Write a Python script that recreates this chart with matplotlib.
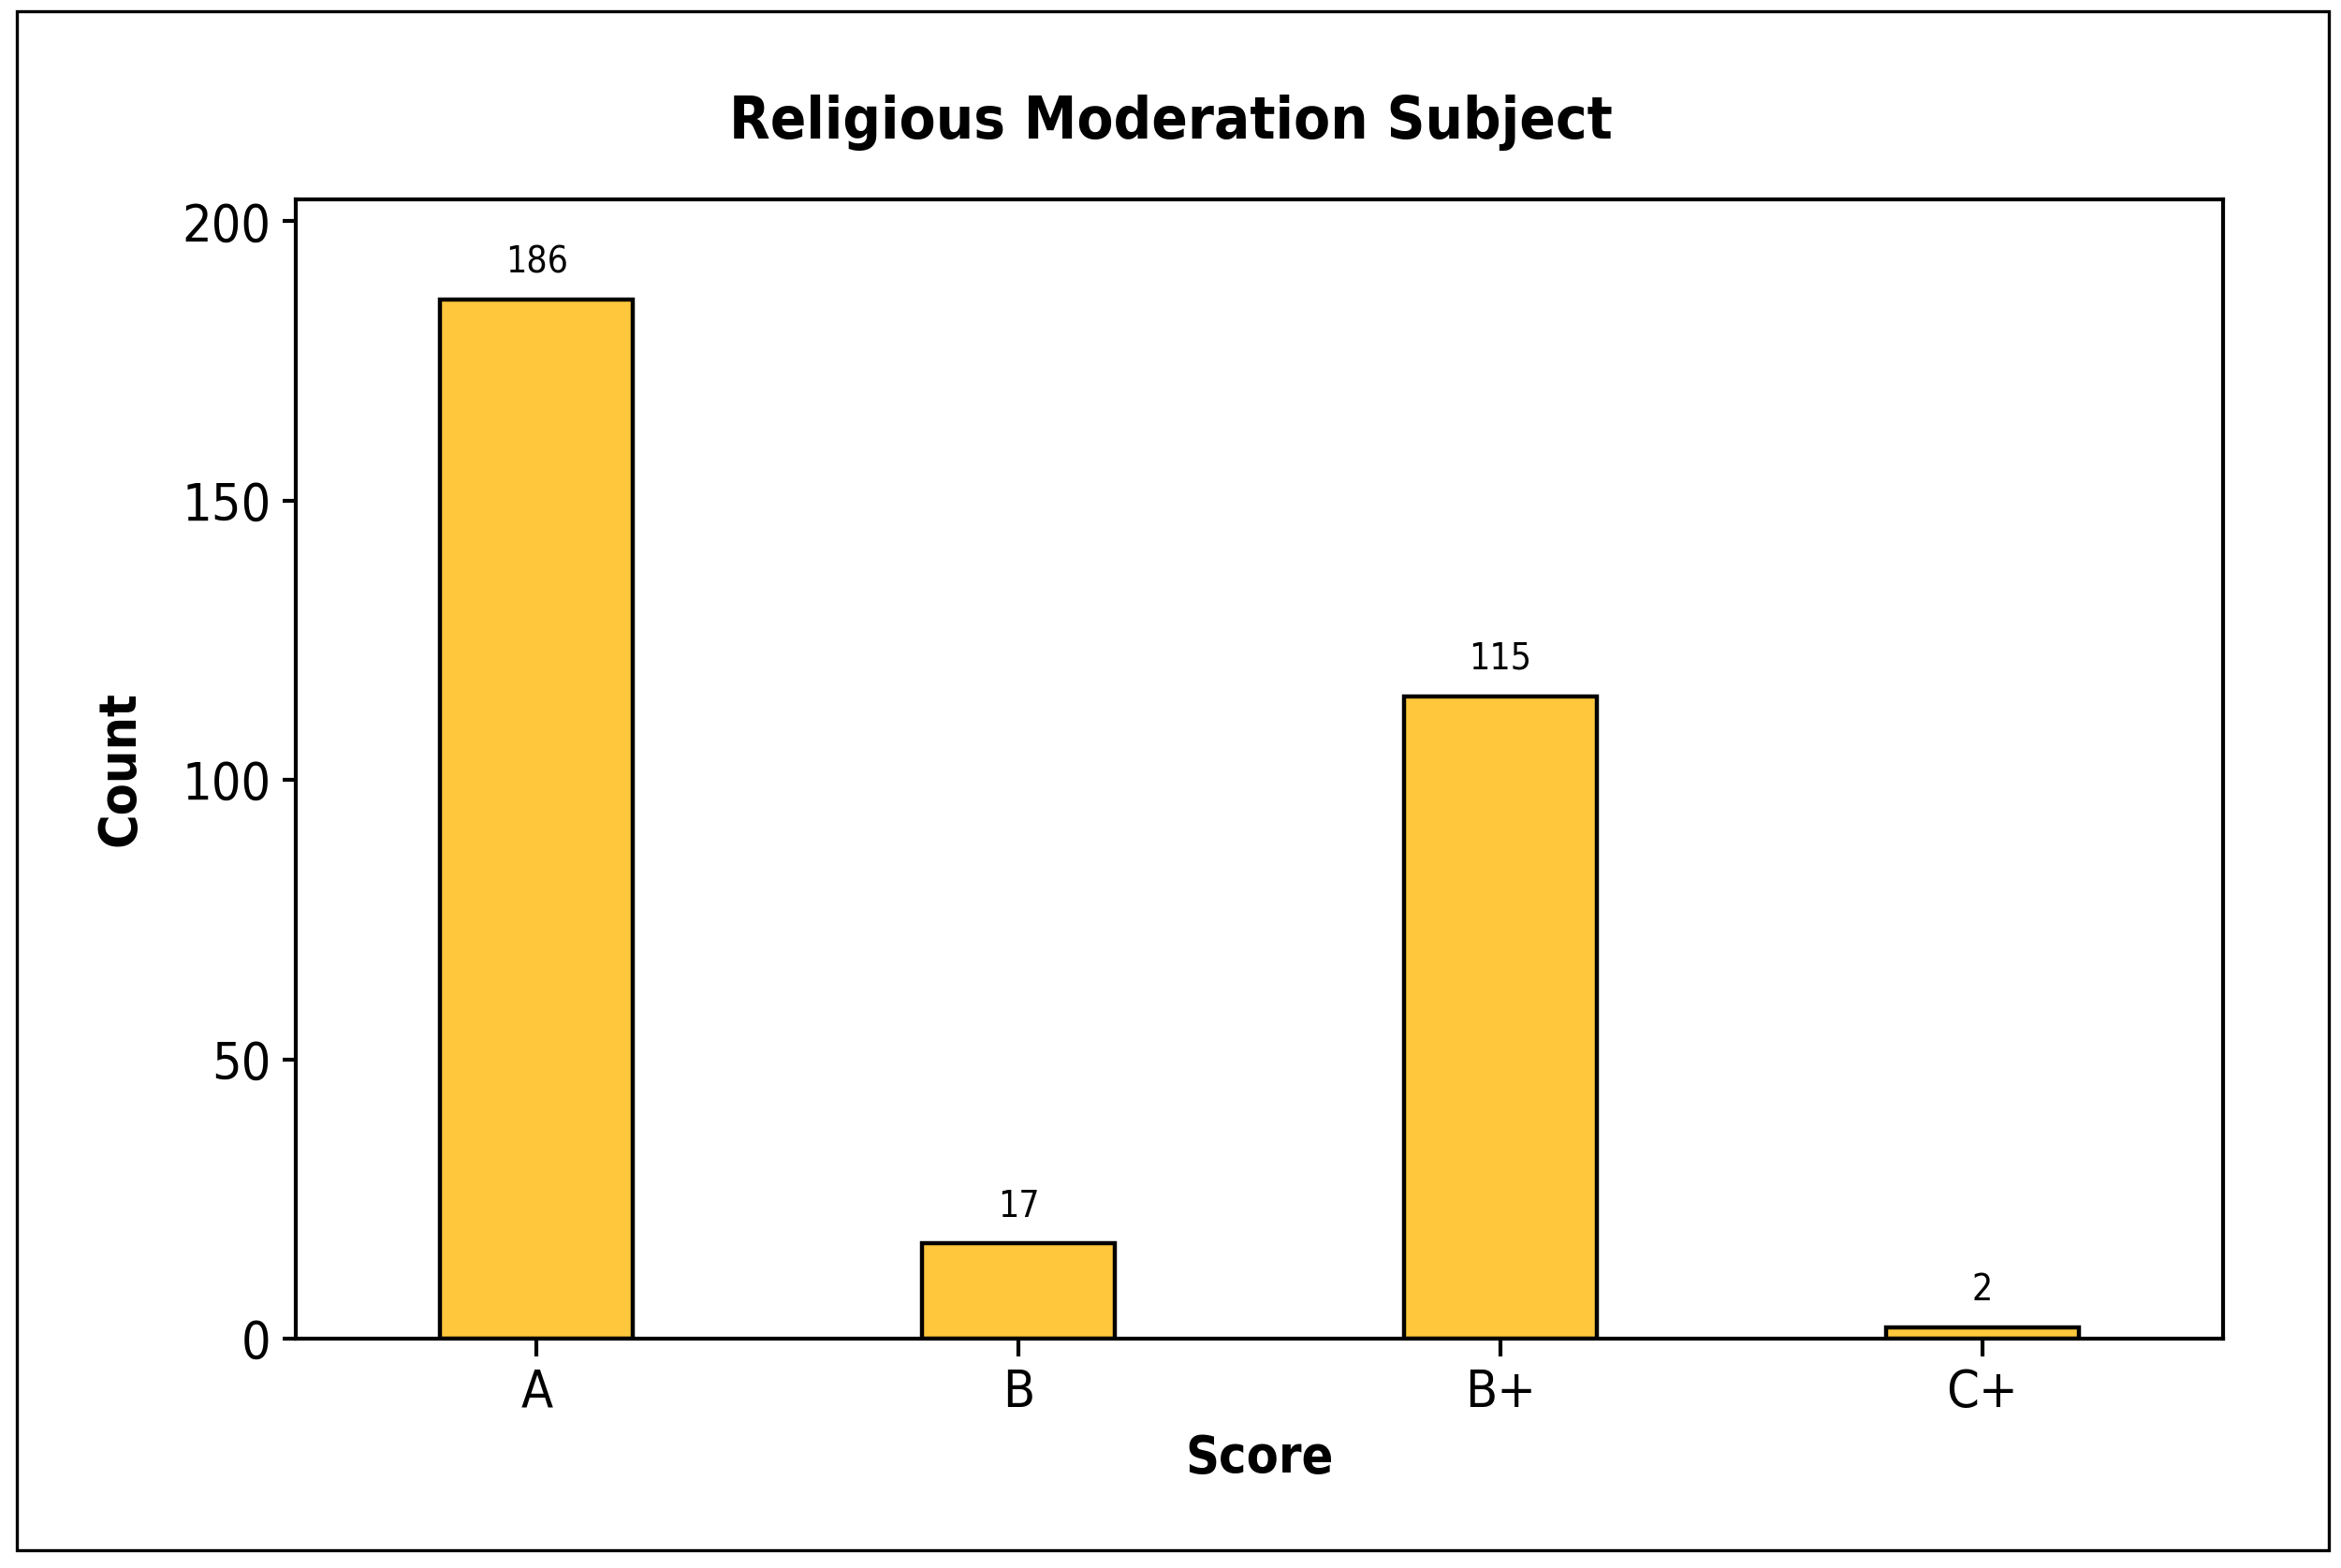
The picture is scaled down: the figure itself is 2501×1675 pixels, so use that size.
import matplotlib
matplotlib.use('Agg')
import matplotlib.pyplot as plt
from matplotlib.patches import Rectangle

scores = ['A', 'B', 'B+', 'C+']
counts = [186, 17, 115, 2]
y_ticks = [0, 50, 100, 150, 200]

bar_color = '#FFC83C'
plt.rcParams['font.family'] = ['DejaVu Sans']
plt.rcParams['font.stretch'] = 'condensed'

fig = plt.figure(figsize=(25.01, 16.75), dpi=100)
ax = fig.add_axes([0.1263, 0.1463, 0.8233, 0.7265])

x = range(len(scores))
bars = ax.bar(x, counts, width=0.4, color=bar_color, edgecolor='black', linewidth=3.2)

for xi, c in zip(x, counts):
    ax.annotate(str(c), (xi, c), xytext=(0, 15), textcoords='offset points',
                ha='center', va='bottom', fontsize=28)

ax.set_xlim(-0.5, 3.5)
ax.set_ylim(0, 203.9)
ax.set_xticks(list(x))
ax.set_xticklabels(scores)
ax.set_yticks(y_ticks)
ax.tick_params(axis='both', labelsize=40, width=3, direction='out')
ax.tick_params(axis='y', length=10, pad=9)
ax.tick_params(axis='x', length=14, pad=8)
for s in ax.spines.values():
    s.set_linewidth(3)

fig.text(0.5, 1 - 131 / 1675, 'Religious Moderation Subject', fontsize=45.5,
         fontweight='bold', ha='center', va='center')
ax.set_xlabel('Score', fontsize=40, fontweight='bold', labelpad=12)
ax.set_ylabel('Count', fontsize=40, fontweight='bold', labelpad=28)

# outer frame
fig.patches.append(Rectangle((18 / 2501, 1 - 1656 / 1675), (2488 - 18) / 2501, (1656 - 12) / 1675,
                             transform=fig.transFigure, fill=False, edgecolor='black', linewidth=2.4))

fig.savefig('out.png', dpi=100)
